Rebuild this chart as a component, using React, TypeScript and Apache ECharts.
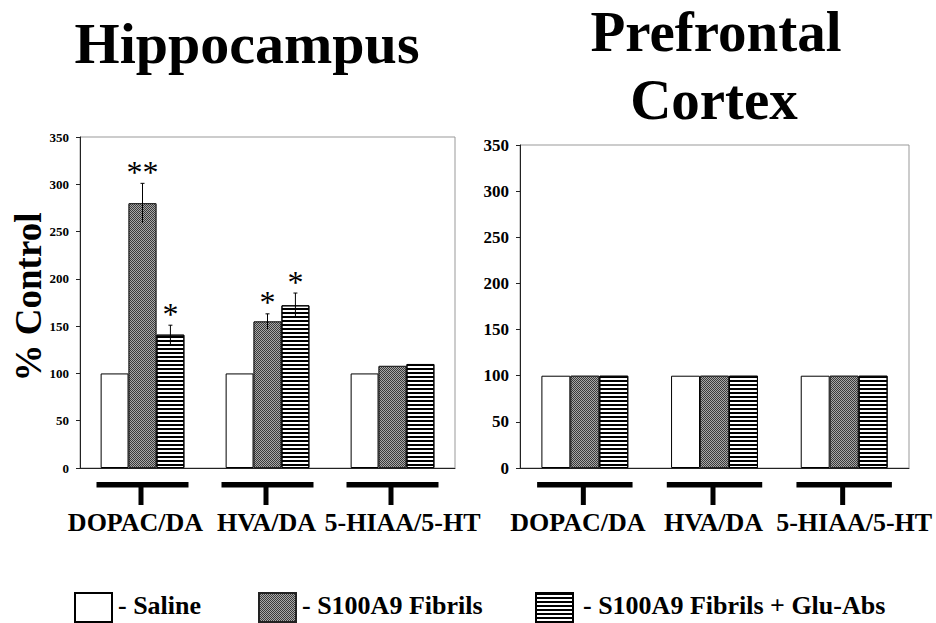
import React, { useEffect, useRef } from "react";
import * as echarts from "echarts";

const categories = ["DOPAC/DA", "HVA/DA", "5-HIAA/5-HT"];
const seriesNames = ["Saline", "S100A9 Fibrils", "S100A9 Fibrils + Glu-Abs"];

const hippoSaline = [100, 100, 100];
const hippoFibrils = [280, 155, 108];
const hippoGlu = [141, 172, 110];
const hippoFibrilsErr = [21, 8, 0];
const hippoGluErr = [10, 13, 0];
const hippoFibrilsStars = ["**", "*", ""];
const hippoGluStars = ["*", "*", ""];

const pfcSaline = [100, 100, 100];
const pfcFibrils = [100, 100, 100];
const pfcGlu = [100, 100, 100];

const yTicks = { min: 0, max: 350, interval: 50 };

const SERIF = "'Liberation Serif', 'Times New Roman', serif";
const NARROW_FAMILY = "Liberation Sans Narrow";

const BAR_GAP_RATIO = 0.33;
// small horizontal nudges of the category captions (layout only)
const CAPTION_NUDGE = [-7, -1, 10];

const salineStyle = { color: "#ffffff", borderColor: "#000", borderWidth: 1 };
const fibrilStyle = {
  color: "#3a3a3a",
  borderColor: "#222",
  borderWidth: 1,
  decal: { symbol: "rect", symbolSize: 1, color: "#a8a8a8", dashArrayX: [[1, 1], [0, 1, 1, 0]], dashArrayY: [1, 0], rotation: 0 },
};
const gluStyle = {
  color: "#ffffff",
  borderColor: "#000",
  borderWidth: 1,
  decal: { symbol: "rect", symbolSize: 1, color: "#000", dashArrayX: [1, 0], dashArrayY: [2, 2], rotation: 0 },
};

type ErrItem = { cat: number; value: number; err: number; slot: number; star: string };
const errorItems: ErrItem[] = [];
categories.forEach((_, i) => {
  if (hippoFibrilsErr[i] > 0 || hippoFibrilsStars[i])
    errorItems.push({ cat: i, value: hippoFibrils[i], err: hippoFibrilsErr[i], slot: 0, star: hippoFibrilsStars[i] });
  if (hippoGluErr[i] > 0 || hippoGluStars[i])
    errorItems.push({ cat: i, value: hippoGlu[i], err: hippoGluErr[i], slot: 1, star: hippoGluStars[i] });
});

function bracketSeries(xAxisIndex: number, yAxisIndex: number) {
  return {
    type: "custom",
    xAxisIndex,
    yAxisIndex,
    clip: false,
    silent: true,
    z: 5,
    data: categories.map((_, i) => [i, 0]),
    renderItem: (params: any, api: any) => {
      const idx = api.value(0);
      const c = api.coord([idx, 0]);
      const band = api.size([1, 0])[0];
      const half = band * 0.368;
      return {
        type: "group",
        children: [
          { type: "rect", shape: { x: c[0] - half, y: c[1] + 14, width: half * 2, height: 5.5 }, style: { fill: "#000" } },
          { type: "rect", shape: { x: c[0] - 4, y: c[1] + 19, width: 5, height: 18 }, style: { fill: "#000" } },
          {
            type: "text",
            x: c[0] + CAPTION_NUDGE[idx],
            y: c[1] + 54.5,
            style: { text: categories[idx], font: `bold 26px ${SERIF}`, fill: "#000", align: "center", verticalAlign: "middle" },
          },
        ],
      };
    },
  };
}

export default function App() {
  const ref = useRef<HTMLDivElement>(null);
  useEffect(() => {
    if (!ref.current) return;
    const chart = echarts.init(ref.current, undefined, { renderer: "svg" });

    const yAxisCommon = (fontSize: number, margin: number) => ({
      type: "value",
      min: yTicks.min,
      max: yTicks.max,
      interval: yTicks.interval,
      splitLine: { show: false },
      axisLine: { show: true, lineStyle: { color: "#222", width: 1 } },
      axisTick: { show: true, length: 4, lineStyle: { color: "#222" } },
      axisLabel: { color: "#000", fontFamily: NARROW_FAMILY, fontWeight: "bold", fontSize, margin },
    });
    const xAxisCommon = (gridIndex: number) => ({
      type: "category",
      gridIndex,
      data: categories,
      axisLine: { show: true, lineStyle: { color: "#222", width: 1 } },
      axisTick: { show: false },
      axisLabel: { show: false },
    });

    const barCommon = { type: "bar", barGap: "0%", barCategoryGap: BAR_GAP_RATIO * 100 + "%" };

    const legendCommon = {
      icon: "rect",
      itemWidth: 37,
      itemHeight: 29,
      itemGap: 0,
      padding: 0,
      top: 592,
      selectedMode: false,
      formatter: () => "",
    };

    const legendTextStyle = { font: `bold 26px ${SERIF}`, fill: "#000", align: "left", verticalAlign: "middle" };

    chart.setOption({
      animation: false,
      backgroundColor: "#fff",
      legend: [
        { ...legendCommon, left: 74, data: [seriesNames[0]] },
        { ...legendCommon, left: 258, data: [seriesNames[1]] },
        { ...legendCommon, left: 535, data: [seriesNames[2]] },
      ],
      grid: [
        { left: 80, right: 481, top: 137, bottom: 155, show: true, borderColor: "#999", borderWidth: 1, backgroundColor: "transparent" },
        { left: 520, right: 27, top: 145, bottom: 155, show: true, borderColor: "#999", borderWidth: 1, backgroundColor: "transparent" },
      ],
      xAxis: [xAxisCommon(0), xAxisCommon(1)],
      yAxis: [
        { ...yAxisCommon(13, 11), gridIndex: 0 },
        { ...yAxisCommon(17, 11), gridIndex: 1 },
      ],
      graphic: [
        { type: "text", x: 247, y: 43, style: { text: "Hippocampus", font: `bold 58px ${SERIF}`, fill: "#000", align: "center", verticalAlign: "middle" } },
        { type: "text", x: 716, y: 31, style: { text: "Prefrontal", font: `bold 57px ${SERIF}`, fill: "#000", align: "center", verticalAlign: "middle" } },
        { type: "text", x: 714, y: 99, style: { text: "Cortex", font: `bold 57px ${SERIF}`, fill: "#000", align: "center", verticalAlign: "middle" } },
        { type: "text", x: 28, y: 297, rotation: Math.PI / 2, style: { text: "% Control", font: `bold 37px ${SERIF}`, fill: "#000", align: "center", verticalAlign: "middle" } },
        { type: "text", x: 118, y: 605.5, style: { ...legendTextStyle, text: "- " + seriesNames[0] } },
        { type: "text", x: 302, y: 605.5, style: { ...legendTextStyle, text: "- " + seriesNames[1] } },
        { type: "text", x: 583, y: 605.5, style: { ...legendTextStyle, text: "- " + seriesNames[2] } },
      ],
      series: [
        { ...barCommon, name: seriesNames[0], xAxisIndex: 0, yAxisIndex: 0, data: hippoSaline, itemStyle: salineStyle },
        { ...barCommon, name: seriesNames[1], xAxisIndex: 0, yAxisIndex: 0, data: hippoFibrils, itemStyle: fibrilStyle },
        { ...barCommon, name: seriesNames[2], xAxisIndex: 0, yAxisIndex: 0, data: hippoGlu, itemStyle: gluStyle },
        { ...barCommon, name: seriesNames[0], xAxisIndex: 1, yAxisIndex: 1, data: pfcSaline, itemStyle: salineStyle },
        { ...barCommon, name: seriesNames[1], xAxisIndex: 1, yAxisIndex: 1, data: pfcFibrils, itemStyle: fibrilStyle },
        { ...barCommon, name: seriesNames[2], xAxisIndex: 1, yAxisIndex: 1, data: pfcGlu, itemStyle: gluStyle },
        {
          type: "custom",
          xAxisIndex: 0,
          yAxisIndex: 0,
          clip: false,
          silent: true,
          z: 6,
          data: errorItems.map((d) => [d.cat, d.value + d.err]),
          renderItem: (params: any, api: any) => {
            const d = errorItems[params.dataIndex];
            const band = api.size([1, 0])[0];
            const barW = (band * (1 - BAR_GAP_RATIO)) / 3;
            const top = api.coord([d.cat, d.value + d.err]);
            const bot = api.coord([d.cat, d.value - d.err]);
            const x = top[0] + d.slot * barW;
            const children: any[] = [];
            if (d.err > 0) {
              children.push({ type: "line", shape: { x1: x, y1: top[1], x2: x, y2: bot[1] }, style: { stroke: "#000", lineWidth: 1 } });
              children.push({ type: "line", shape: { x1: x - 2, y1: top[1], x2: x + 2, y2: top[1] }, style: { stroke: "#000", lineWidth: 1 } });
            }
            if (d.star) {
              children.push({
                type: "text",
                x,
                y: top[1] - 11.5,
                style: { text: d.star, font: `32px ${SERIF}`, fill: "#000", align: "center", verticalAlign: "middle" },
              });
            }
            return { type: "group", children };
          },
        },
        bracketSeries(0, 0),
        bracketSeries(1, 1),
      ],
    });
    return () => chart.dispose();
  }, []);
  return <div ref={ref} style={{ position: "fixed", left: 0, top: 0, width: 936, height: 623 }} />;
}
